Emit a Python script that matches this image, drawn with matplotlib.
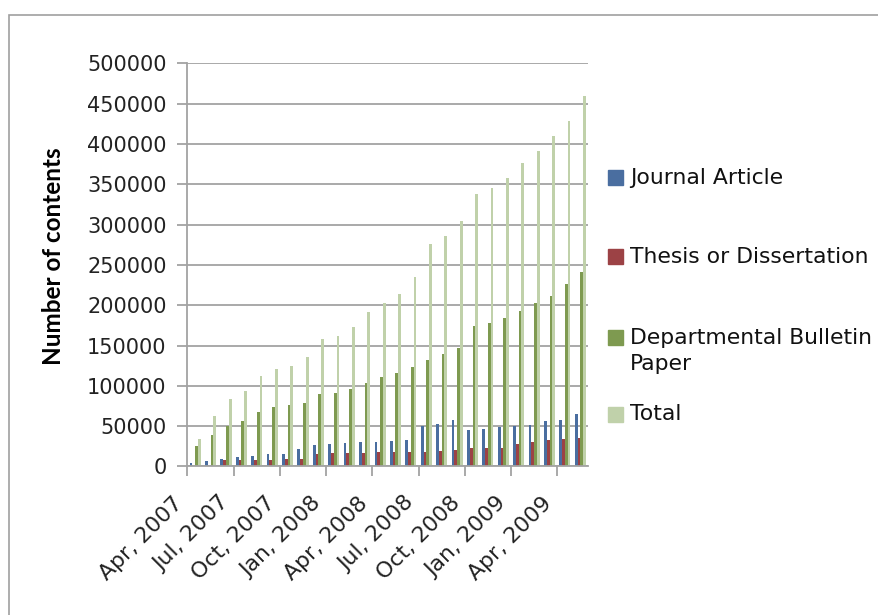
import numpy as np
import matplotlib
matplotlib.use("Agg")
import matplotlib.pyplot as plt
from matplotlib.patches import Rectangle
from matplotlib.transforms import ScaledTranslation

# monthly counts, Apr 2007 .. May 2009
months = ["Apr", "May", "Jun", "Jul", "Aug", "Sep", "Oct", "Nov", "Dec",
          "Jan", "Feb", "Mar"]
years = [2007] * 9 + [2008] * 12 + [2009] * 5
month_names = (months + months + months)[:26]
journal = [4500, 7000, 9500, 12000, 13300, 15800, 15800, 21600, 26600, 27700,
           29000, 30200, 30200, 31500, 32700, 50000, 52500, 57500, 45500, 46700,
           49200, 50400, 51700, 56600, 57900, 65300]
thesis = [1000, 1000, 8300, 8300, 8300, 8300, 9500, 9200, 15400, 16600,
          16600, 16600, 17800, 17800, 17800, 17800, 19000, 20300, 23100, 23100,
          23100, 28100, 30600, 33100, 34300, 35500]
bulletin = [25700, 39400, 49800, 56800, 68000, 74300, 76600, 78700, 89900, 91000,
            96000, 103500, 111000, 115900, 123200, 132000, 139400, 146800, 174400, 178100,
            184300, 193000, 202900, 211600, 226400, 241300]
total = [34400, 63000, 84200, 94200, 111600, 120300, 125000, 135800, 158100, 161800,
         173000, 191600, 202800, 214000, 234900, 275800, 285800, 304400, 338000, 345500,
         357900, 376400, 391300, 409900, 428500, 459500]

series = [("Journal Article", journal, "#4a6ea0"),
          ("Thesis or Dissertation", thesis, "#9c4245"),
          ("Departmental Bulletin\nPaper", bulletin, "#7e9a50"),
          ("Total", total, "#c0d1aa")]

labels = ["%s, %d" % (m, y) for m, y in zip(month_names, years)]

W, H = 879, 615
fig = plt.figure(figsize=(W / 100, H / 100), dpi=100)
ax = fig.add_axes([0.2133, 0.2415, 0.4557, 0.6555])

x = np.arange(len(total)) + 0.5
w = 0.18
for k, (name, vals, col) in enumerate(series):
    ax.bar(x + (k - 1.5) * w, vals, width=w, color=col, label=name, zorder=2)

gc = "#a3a3a3"
ax.set_xlim(0, len(total))
ax.set_ylim(0, 500000)
ax.set_yticks(np.arange(0, 500001, 50000))
ax.yaxis.grid(True, color=gc, lw=1.3, zorder=0)
for s in ["top", "right"]:
    ax.spines[s].set_visible(False)
for s in ["left", "bottom"]:
    ax.spines[s].set_color(gc)
    ax.spines[s].set_linewidth(1.3)

ax.set_xticks(np.arange(0, len(total), 3))
ax.set_xticklabels([])
ax.set_xticks(x[::3], minor=True)
ax.set_xticklabels(labels[::3], minor=True, rotation=45, ha="right",
                   va="center", rotation_mode="anchor", fontsize=15.8,
                   color="#222222")
ax.tick_params(axis="x", which="major", length=7, color=gc, width=1.3)
ax.tick_params(axis="x", which="minor", length=0, pad=24)
ax.tick_params(axis="y", length=7, color=gc, width=1.3, labelsize=15,
               pad=8, labelcolor="#222222")
shift = ScaledTranslation(-16 / 100, 0, fig.dpi_scale_trans)
for t in ax.get_xticklabels(minor=True):
    t.set_transform(t.get_transform() + shift)

ax.set_ylabel("Number of contents", fontsize=17.5, fontweight="bold",
              family="Lato")
ax.yaxis.set_label_coords(-0.305, 0.522)

# legend, laid out like the spreadsheet one (equal slots, text top aligned)
slot_y = [177, 256, 337, 414]
for (name, vals, col), yc in zip(series, slot_y):
    fig.patches.append(Rectangle((608 / W, 1 - (yc + 7.5) / H), 15 / W, 15 / H,
                                 transform=fig.transFigure, color=col))
    fig.text(630 / W, 1 - (yc - 9.5) / H, name, fontsize=15.75, va="top",
             ha="left", linespacing=1.38, color="#111111")

# chart outline (only top and left edges are inside the picture)
fig.patches.append(Rectangle((9 / W, -0.1), 1.2, 1 - 15 / H + 0.1,
                             transform=fig.transFigure, fill=False,
                             edgecolor="#a0a0a0", lw=1.2))

fig.savefig("out.png", dpi=100)
